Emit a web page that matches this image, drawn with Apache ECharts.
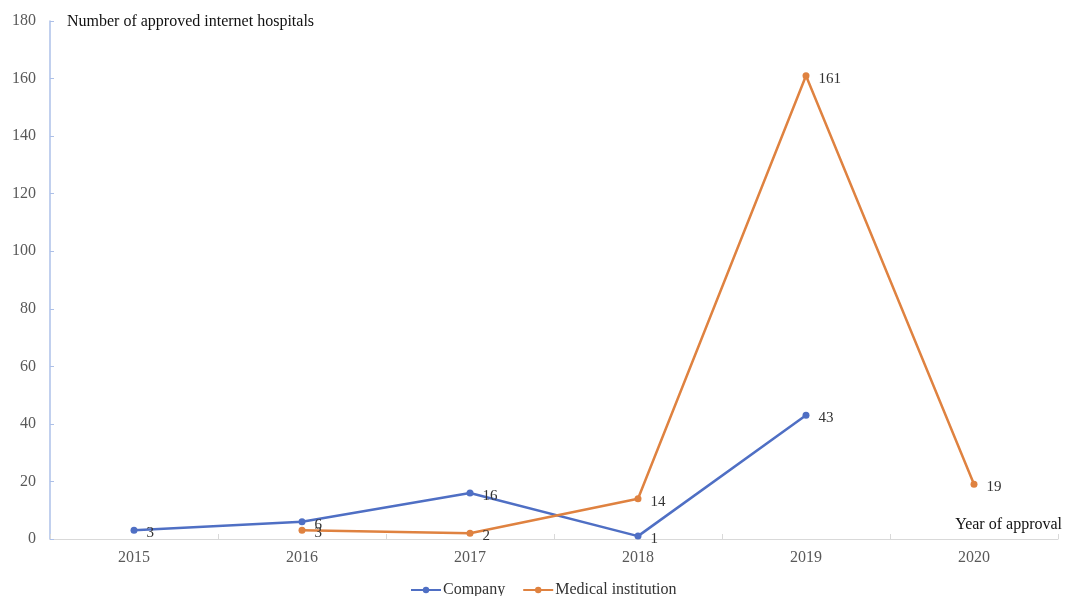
<!DOCTYPE html>
<html><head><meta charset="utf-8">
<script src="https://cdn.jsdelivr.net/npm/echarts@6/dist/echarts.min.js"></script>
<style>html,body{margin:0;padding:0;background:#fff}#c{width:1065px;height:596px}</style>
</head><body><div id="c"></div>
<script>
const years = ['2015','2016','2017','2018','2019','2020'];
const company = [3, 6, 16, 1, 43, null];
const medical = [null, 3, 2, 14, 161, 19];
const yTicks = {min: 0, max: 180, interval: 20};

const font = 'Liberation Serif';
const chart = echarts.init(document.getElementById('c'));
const lbl = {show: true, position: 'right', distance: 9, offset: [0, 3], color: '#333', fontFamily: font, fontSize: 15};
chart.setOption({
  animation: false,
  grid: {left: 50, right: 3, top: 21, bottom: 57, containLabel: false},
  legend: {
    bottom: -7, left: 405, itemWidth: 30, itemHeight: 8, itemGap: 17,
    textStyle: {fontFamily: font, fontSize: 16, color: '#333', padding: [0, 0, 0, -3]},
    data: ['Company', 'Medical institution']
  },
  xAxis: {
    type: 'category', data: years, boundaryGap: true,
    name: 'Year of approval', nameLocation: 'end', nameGap: 0,
    nameTextStyle: {fontFamily: font, fontSize: 16, color: '#111', align: 'right', verticalAlign: 'bottom', padding: [0, -4, 6, 0]},
    axisLine: {lineStyle: {color: '#d9d9d9', width: 1}},
    axisTick: {show: true, inside: true, length: 5, lineStyle: {color: '#d9d9d9'}},
    axisLabel: {fontFamily: font, fontSize: 16, color: '#595959', margin: 11}
  },
  yAxis: {
    type: 'value', min: yTicks.min, max: yTicks.max, interval: yTicks.interval,
    name: 'Number of approved internet hospitals', nameLocation: 'end', nameGap: -1,
    nameTextStyle: {fontFamily: font, fontSize: 16, color: '#111', align: 'left', verticalAlign: 'middle', padding: [0, 0, 0, 17]},
    splitLine: {show: false},
    axisLine: {show: true, lineStyle: {color: '#adc0e8', width: 1.5}},
    axisTick: {show: true, inside: true, length: 4, lineStyle: {color: '#adc0e8'}},
    axisLabel: {fontFamily: font, fontSize: 16, color: '#595959', margin: 14}
  },
  series: [
    {name: 'Company', type: 'line', data: company, connectNulls: false,
     symbol: 'circle', symbolSize: 7,
     lineStyle: {color: '#4f6fc4', width: 2.5}, itemStyle: {color: '#4f6fc4'},
     label: lbl},
    {name: 'Medical institution', type: 'line', data: medical,
     symbol: 'circle', symbolSize: 7,
     lineStyle: {color: '#df8240', width: 2.5}, itemStyle: {color: '#df8240'},
     label: lbl}
  ]
});
</script></body></html>
